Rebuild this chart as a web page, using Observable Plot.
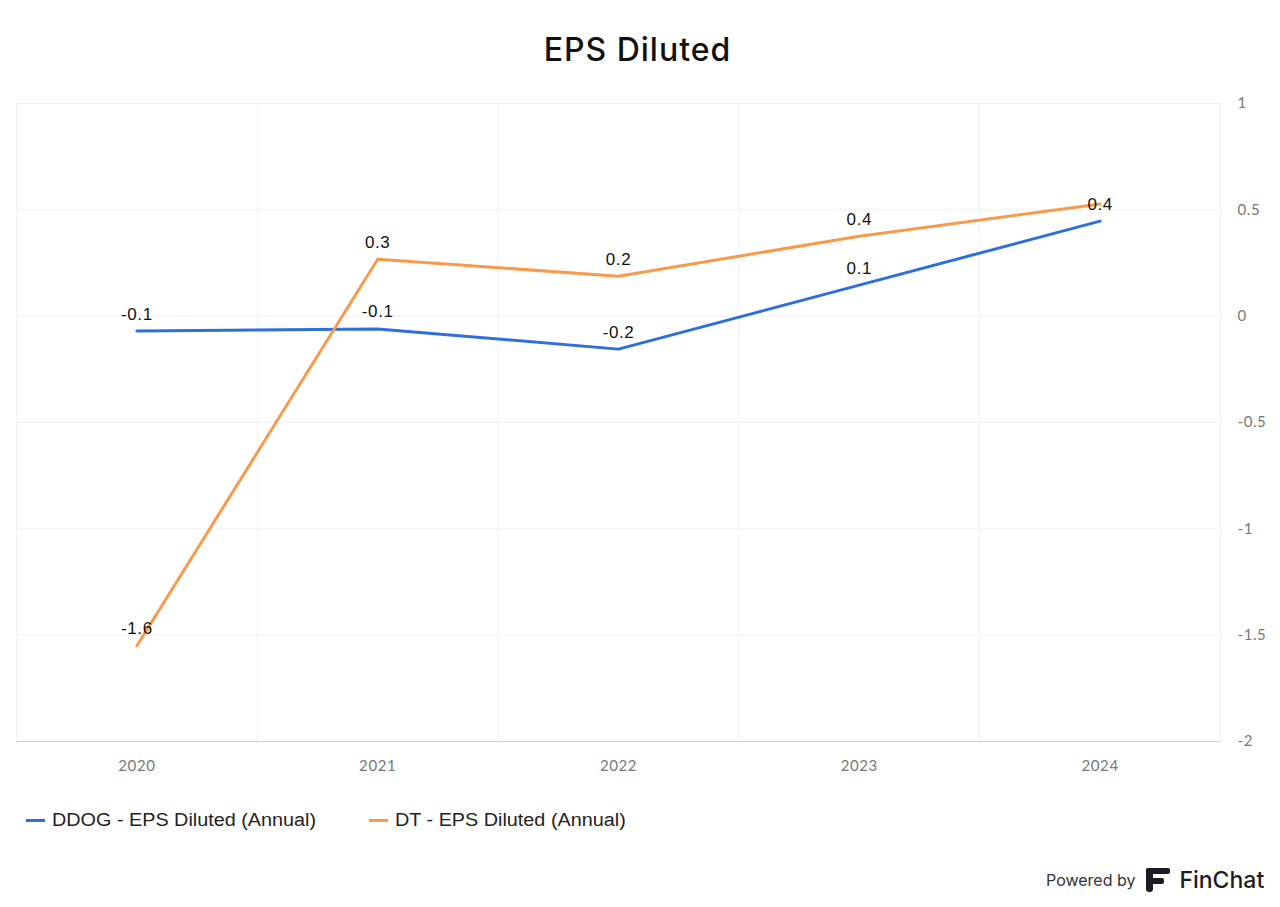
<!DOCTYPE html>
<html>
<head>
<meta charset="utf-8">
<script src="https://cdn.jsdelivr.net/npm/d3@7"></script>
<script src="https://cdn.jsdelivr.net/npm/@observablehq/plot@0.6"></script>
<style>
  html, body { margin: 0; padding: 0; background: #fff; }
  #wrap { position: relative; width: 1280px; height: 907px; overflow: hidden; }
  #title { position: absolute; left: 0; width: 1275px; top: 30px; text-align: center;
           font-family: Inter, "DejaVu Sans", sans-serif; font-size: 32px; font-weight: 500; color: #111; letter-spacing: 1px; }
  #chart { position: absolute; left: 0; top: 0; }
  .leg { position: absolute; top: 810px; font-family: "Liberation Sans", Arial, sans-serif; font-size: 18px; color: #222; display: flex; align-items: center; }
  .leg span.sw { display: inline-block; width: 19px; height: 3px; margin-right: 7px; }
  .leg span.tx { display: inline-block; transform: scaleX(1.1); transform-origin: left center; }
  #powered { position: absolute; left: 1046px; top: 866px; display: flex; align-items: center;
             font-family: Inter, "Liberation Sans", sans-serif; color: #333; }
</style>
</head>
<body>
<div id="wrap">
  <div id="chart"></div>
  <div id="title">EPS Diluted</div>
  <div class="leg" style="left:26px"><span class="sw" style="background:#2f6fdc"></span><span class="tx">DDOG - EPS Diluted (Annual)</span></div>
  <div class="leg" style="left:369px"><span class="sw" style="background:#f89a4c"></span><span class="tx">DT - EPS Diluted (Annual)</span></div>
  <div id="powered">
    <span style="font-size:16px;">Powered by</span>
    <svg width="26" height="26" viewBox="0 0 26 26" style="margin-left:10px;margin-right:8px">
      <rect x="1" y="1" width="24" height="6" rx="2" fill="#1c1c24"/>
      <rect x="1" y="1" width="7" height="24" rx="3" fill="#1c1c24"/>
      <rect x="1" y="11" width="18" height="6" rx="2" fill="#1c1c24"/>
    </svg>
    <span style="font-size:23px;font-weight:500;color:#1c1c24;">FinChat</span>
  </div>
</div>
<script>
const years = [2020, 2021, 2022, 2023, 2024];
const ddogValues = [-0.07, -0.06, -0.155, 0.146, 0.447];
const dtValues = [-1.55, 0.268, 0.188, 0.376, 0.527];
const ddogLabels = ["-0.1", "-0.1", "-0.2", "0.1", "0.4"];
const dtLabels = ["-1.6", "0.3", "0.2", "0.4", ""];
const yTicks = [1, 0.5, 0, -0.5, -1, -1.5, -2];

const colors = { DDOG: "#2f6fdc", DT: "#f89a4c" };

const rows = [];
years.forEach((yr, i) => rows.push({ year: yr, value: ddogValues[i], label: ddogLabels[i], series: "DDOG" }));
years.forEach((yr, i) => rows.push({ year: yr, value: dtValues[i], label: dtLabels[i], series: "DT" }));

// band boundaries for vertical gridlines
const bounds = [years[0] - 0.5, ...years.map(y => y + 0.5)];

const chart = Plot.plot({
  width: 1280,
  height: 800,
  marginTop: 103,
  marginBottom: 59,
  marginLeft: 16,
  marginRight: 60,
  style: { background: "transparent", fontFamily: "Lato, 'Liberation Sans', sans-serif", letterSpacing: "0.6px" },
  x: { domain: [years[0] - 0.5, years[years.length - 1] + 0.5] },
  y: { domain: [-2, 1] },
  marks: [
    Plot.ruleY(yTicks, { stroke: "#f0f0f0", strokeWidth: 1 }),
    Plot.ruleX(bounds, { stroke: "#f2f2f2", strokeWidth: 1 }),
    Plot.ruleY([-2], { stroke: "#d0d0d0", strokeWidth: 1.2 }),
    Plot.axisX({ ticks: years, tickFormat: d => String(d), tickSize: 0, tickPadding: 19, fontSize: 15, fill: "#777", label: null }),
    Plot.axisY({ anchor: "right", ticks: yTicks, tickFormat: d => String(d), tickSize: 0, tickPadding: 17, fontSize: 15, fill: "#777", textAnchor: "start", label: null }),
    Plot.line(rows, { x: "year", y: "value", z: "series", stroke: d => colors[d.series], strokeWidth: 3 }),
    Plot.text(rows, { x: "year", y: "value", text: "label", dy: -17, fontSize: 17, fill: "#111", fontFamily: "'Liberation Sans', Arial, sans-serif", style: "letter-spacing:0" })
  ]
});
document.getElementById("chart").appendChild(chart);
</script>
</body>
</html>
